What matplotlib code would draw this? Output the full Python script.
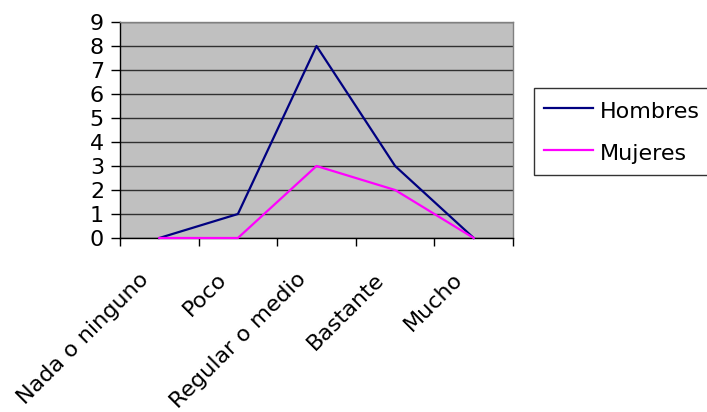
import matplotlib
matplotlib.use("Agg")
import matplotlib.pyplot as plt
from matplotlib.transforms import ScaledTranslation
import numpy as np

categories = ["Nada o ninguno", "Poco", "Regular o medio", "Bastante", "Mucho"]
hombres = [0, 1, 8, 3, 0]
mujeres = [0, 0, 3, 2, 0]
y_ticks = list(range(0, 10))

plt.rcParams['font.family'] = ['DejaVu Sans']

fig = plt.figure(figsize=(7.07, 4.12), dpi=100)
W, H = 707, 412
ax = fig.add_axes([120 / W, 1 - 238 / H, (513 - 120) / W, (238 - 22) / H])
ax.set_facecolor('#C0C0C0')

x = np.arange(len(categories))
ax.plot(x, hombres, color='#000080', lw=1.6, label='Hombres', zorder=3, clip_on=False)
ax.plot(x, mujeres, color='#FF00FF', lw=1.6, label='Mujeres', zorder=3, clip_on=False)

ax.set_xlim(-0.5, len(categories) - 0.5)
ax.set_ylim(0, 9)
ax.set_yticks(y_ticks)
ax.set_yticklabels([str(v) for v in y_ticks], fontsize=16)
ax.yaxis.grid(True, color='#303030', lw=1.0)
ax.set_axisbelow(True)

ax.set_xticks(x)
ax.set_xticklabels(categories, fontsize=16, rotation=45, ha='right', va='top',
                   rotation_mode='anchor')
ax.set_xticks(np.arange(-0.5, len(categories), 1.0), minor=True)
ax.tick_params(axis='x', which='major', length=0, pad=22.3)
ax.tick_params(axis='x', which='minor', length=5.5, width=1, color='black', direction='out')
ax.tick_params(axis='y', length=6.5, width=1, color='black', direction='out', pad=5)

off = ScaledTranslation(-21 / 100, 0, fig.dpi_scale_trans)
for lab in ax.get_xticklabels():
    lab.set_transform(lab.get_transform() + off)

for s in ['left', 'bottom']:
    ax.spines[s].set_color('black')
    ax.spines[s].set_linewidth(1)
for s in ['top', 'right']:
    ax.spines[s].set_color('#808080')
    ax.spines[s].set_linewidth(1)

leg = fig.legend(loc='upper left', bbox_to_anchor=(534 / W, 1 - 88 / H),
                 fontsize=16, frameon=True, fancybox=False, edgecolor='black',
                 handlelength=2.2, handletextpad=0.3, borderpad=0.45,
                 handleheight=1.35, labelspacing=0.75, borderaxespad=0)
leg.get_frame().set_linewidth(1)
for line in leg.get_lines():
    line.set_linewidth(1.6)

fig.savefig('out.png', dpi=100)
